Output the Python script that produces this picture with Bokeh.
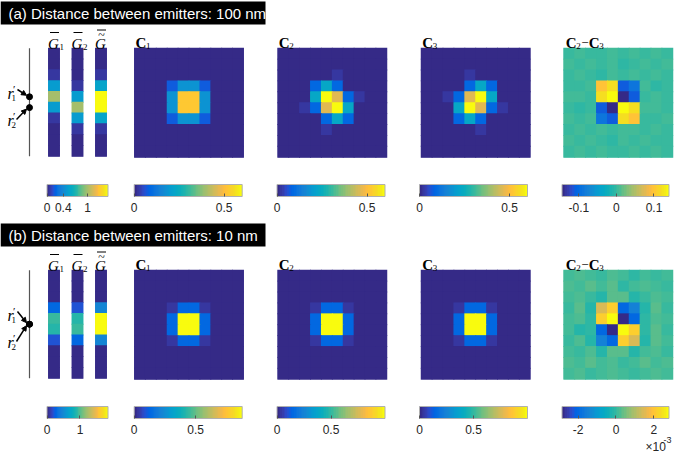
import numpy as np
from bokeh.plotting import figure
from bokeh.models import (ColumnDataSource, LinearColorMapper, ColorBar, FixedTicker,
                          CustomJSTickFormatter, Arrow, NormalHead, Range1d, AllLabels)
from bokeh.transform import transform
from bokeh.core.properties import value
from bokeh.embed import file_html
from bokeh.resources import INLINE

# ---------------- MATLAB parula (64) ----------------
PARULA_RGB = [
    (0.2081, 0.1663, 0.5292), (0.2116, 0.1898, 0.5777), (0.2123, 0.2138, 0.6270), (0.2081, 0.2386, 0.6771),
    (0.1959, 0.2645, 0.7279), (0.1707, 0.2919, 0.7792), (0.1253, 0.3242, 0.8303), (0.0591, 0.3598, 0.8683),
    (0.0117, 0.3875, 0.8820), (0.0060, 0.4086, 0.8828), (0.0165, 0.4266, 0.8786), (0.0329, 0.4430, 0.8720),
    (0.0498, 0.4586, 0.8641), (0.0629, 0.4737, 0.8554), (0.0723, 0.4887, 0.8467), (0.0779, 0.5040, 0.8384),
    (0.0793, 0.5200, 0.8312), (0.0749, 0.5375, 0.8263), (0.0641, 0.5570, 0.8240), (0.0488, 0.5772, 0.8228),
    (0.0343, 0.5966, 0.8199), (0.0265, 0.6137, 0.8135), (0.0239, 0.6287, 0.8038), (0.0231, 0.6418, 0.7913),
    (0.0228, 0.6535, 0.7768), (0.0267, 0.6642, 0.7607), (0.0384, 0.6743, 0.7436), (0.0590, 0.6838, 0.7254),
    (0.0843, 0.6928, 0.7062), (0.1133, 0.7015, 0.6859), (0.1453, 0.7098, 0.6646), (0.1801, 0.7177, 0.6424),
    (0.2178, 0.7250, 0.6193), (0.2586, 0.7317, 0.5954), (0.3022, 0.7376, 0.5712), (0.3482, 0.7424, 0.5473),
    (0.3953, 0.7459, 0.5244), (0.4420, 0.7481, 0.5033), (0.4871, 0.7491, 0.4840), (0.5300, 0.7491, 0.4661),
    (0.5709, 0.7485, 0.4494), (0.6099, 0.7473, 0.4337), (0.6473, 0.7456, 0.4188), (0.6834, 0.7435, 0.4044),
    (0.7184, 0.7411, 0.3905), (0.7525, 0.7384, 0.3768), (0.7858, 0.7356, 0.3633), (0.8185, 0.7327, 0.3498),
    (0.8507, 0.7299, 0.3360), (0.8824, 0.7274, 0.3217), (0.9139, 0.7258, 0.3063), (0.9450, 0.7261, 0.2886),
    (0.9739, 0.7314, 0.2666), (0.9938, 0.7455, 0.2403), (0.9990, 0.7653, 0.2164), (0.9955, 0.7861, 0.1967),
    (0.9880, 0.8066, 0.1794), (0.9789, 0.8271, 0.1633), (0.9697, 0.8481, 0.1475), (0.9626, 0.8705, 0.1309),
    (0.9589, 0.8949, 0.1132), (0.9598, 0.9218, 0.0948), (0.9661, 0.9514, 0.0755), (0.9763, 0.9831, 0.0538),
]
PARULA = ["#%02x%02x%02x" % tuple(int(round(c * 255)) for c in rgb) for rgb in PARULA_RGB]

# ---------------- data ----------------
banner_texts = ["(a) Distance between emitters: 100 nm", "(b) Distance between emitters: 10 nm"]

# G-bar columns (10 rows, top to bottom)
G1_a = [0, 0, 0.05, 0.50, 1.00, 0.50, 0.05, 0, 0, 0]
G2_a = [0, 0, 0, 0.05, 0.50, 1.00, 0.50, 0.05, 0, 0]
Gt_a = [0, 0, 0.05, 0.55, 1.50, 1.50, 0.55, 0.05, 0, 0]
G1_b = [0, 0, 0.01, 0.28, 0.95, 0.88, 0.19, 0.01, 0, 0]
G2_b = [0, 0, 0.01, 0.19, 0.88, 0.95, 0.28, 0.01, 0, 0]
Gt_b = [0, 0, 0.02, 0.47, 1.83, 1.83, 0.47, 0.02, 0, 0]
emitter_rows_a = [4, 5]
emitter_rows_b = [4.5, 4.5]

Z = [0] * 10
C1_a = [Z, Z, Z,
        [0, 0, 0, 0.07, 0.18, 0.18, 0.07, 0, 0, 0],
        [0, 0, 0, 0.18, 0.52, 0.52, 0.18, 0, 0, 0],
        [0, 0, 0, 0.18, 0.52, 0.52, 0.18, 0, 0, 0],
        [0, 0, 0, 0.07, 0.18, 0.18, 0.07, 0, 0, 0],
        Z, Z, Z]
C2_a = [Z, Z,
        [0, 0, 0, 0, 0, 0.02, 0, 0, 0, 0],
        [0, 0, 0, 0.09, 0.23, 0.09, 0, 0, 0, 0],
        [0, 0, 0, 0.23, 0.60, 0.46, 0.09, 0.02, 0, 0],
        [0, 0, 0.02, 0.09, 0.46, 0.60, 0.23, 0, 0, 0],
        [0, 0, 0, 0, 0.09, 0.23, 0.09, 0, 0, 0],
        [0, 0, 0, 0, 0.02, 0, 0, 0, 0, 0],
        Z, Z]
C3_a = [Z, Z,
        [0, 0, 0, 0, 0.02, 0, 0, 0, 0, 0],
        [0, 0, 0, 0, 0.09, 0.23, 0.09, 0, 0, 0],
        [0, 0, 0.02, 0.09, 0.46, 0.60, 0.23, 0, 0, 0],
        [0, 0, 0, 0.23, 0.60, 0.46, 0.09, 0.02, 0, 0],
        [0, 0, 0, 0.09, 0.23, 0.09, 0, 0, 0, 0],
        [0, 0, 0, 0, 0, 0.02, 0, 0, 0, 0],
        Z, Z]
D_a = [[0, 0.002, 0, 0, 0.002, 0, 0.002, 0, 0.002, 0],
       [0.002, 0, 0.003, 0, 0.006, -0.003, 0, 0.002, 0, 0.002],
       [0, 0.002, 0, -0.003, 0.002, -0.002, 0.003, 0, 0.003, 0],
       [0, 0, 0.002, 0.097, 0.118, -0.111, -0.088, 0.003, -0.004, 0],
       [0.002, 0.004, 0, 0.118, 0.140, -0.145, -0.111, 0, 0.002, 0],
       [0, -0.005, 0, -0.111, -0.145, 0.140, 0.118, 0.002, 0.004, 0],
       [0.002, 0, 0.003, -0.088, -0.111, 0.118, 0.097, -0.002, 0, 0.002],
       [0, 0.002, 0, 0.002, 0, 0.003, 0.005, 0, 0.002, 0],
       [0.002, 0, 0.002, 0, -0.005, 0.004, 0, 0.002, 0, 0],
       [0, 0.002, 0, 0.002, 0, 0, 0.002, 0, 0.002, 0]]

C1_b = [Z, Z, Z,
        [0, 0, 0, 0.035, 0.13, 0.13, 0.035, 0, 0, 0],
        [0, 0, 0, 0.13, 0.88, 0.88, 0.13, 0, 0, 0],
        [0, 0, 0, 0.13, 0.88, 0.88, 0.13, 0, 0, 0],
        [0, 0, 0, 0.035, 0.13, 0.13, 0.035, 0, 0, 0],
        Z, Z, Z]
C2_b = [Z, Z, Z,
        [0, 0, 0, 0.04, 0.15, 0.15, 0.04, 0, 0, 0],
        [0, 0, 0, 0.15, 1.00, 1.00, 0.15, 0, 0, 0],
        [0, 0, 0, 0.15, 1.00, 1.00, 0.15, 0, 0, 0],
        [0, 0, 0, 0.04, 0.15, 0.15, 0.04, 0, 0, 0],
        Z, Z, Z]
C3_b = [Z, Z, Z,
        [0, 0, 0, 0.04, 0.15, 0.15, 0.04, 0, 0, 0],
        [0, 0, 0, 0.15, 1.00, 1.00, 0.15, 0, 0, 0],
        [0, 0, 0, 0.15, 1.00, 1.00, 0.15, 0, 0, 0],
        [0, 0, 0, 0.04, 0.15, 0.15, 0.04, 0, 0, 0],
        Z, Z, Z]
# in units of 1e-3
D_b = [[0.1, 0.2, 0.1, 0, 0.2, 0.1, -0.1, 0.1, 0, 0.1],
       [0.2, 0.1, 0.3, 0.1, 0.3, -0.1, 0.1, 0.2, 0.1, 0],
       [0.1, 0.2, 0, -0.2, 0.3, 0.3, -0.2, 0, 0.2, 0.1],
       [0, 0.3, -0.2, 1.4, 2.1, -2.0, -1.45, -0.2, 0.3, 0],
       [0.1, 0.2, -0.1, 2.1, 2.8, -2.85, -2.0, -0.1, 0.2, 0.1],
       [0.1, -0.2, -0.1, -2.0, -2.85, 2.8, 2.1, -0.1, 0.3, 0],
       [0, 0.2, -0.2, -1.45, -2.0, 2.1, 1.4, -0.2, 0.3, 0.1],
       [0.1, 0, 0.2, -0.2, 0.3, 0.3, -0.2, 0.1, 0.2, 0],
       [0.2, 0.1, 0.3, 0.1, 0.2, 0, 0.1, 0.3, 0.1, 0.2],
       [0.1, 0.2, 0, 0.1, 0.2, 0.1, 0, 0.1, 0.2, 0.1]]

# colour limits and colorbar ticks per panel
G_lim_a, G_ticks_a = (0, 1.5), [0, 0.4, 1]
G_lim_b, G_ticks_b = (0, 1.85), [0, 1]
C1_lim_a, C2_lim_a, C3_lim_a, C_ticks_a = (0, 0.6), (0, 0.6), (0, 0.6), [0, 0.5]
D_lim_a, D_ticks_a = (-0.145, 0.14), [-0.1, 0, 0.1]
C1_lim_b, C2_lim_b, C3_lim_b, C_ticks_b = (0, 0.88), (0, 1.0), (0, 1.0), [0, 0.5]
D_lim_b, D_ticks_b = (-2.85, 2.8), [-2, 0, 2]

# ---------------- layout (page pixel coordinates) ----------------
W, H = 675, 452
p = figure(width=W, height=H, x_range=Range1d(0, W), y_range=Range1d(H, 0),
           output_backend="svg", toolbar_location=None, min_border=0)
p.axis.visible = False
p.grid.visible = False
p.outline_line_color = None
p.background_fill_color = "white"
p.border_fill_color = "white"

ROW_DY = [0, 222]
CELL = 10.9
G_ROW_H = 10.8
G_COL_X = [48, 71.5, 95]
G_COL_W = 11
C_X = [134, 277.3, 420.7, 563.3]
IMG_TOP = 47.7
CB_TOP = [181, 403]
CB_H = 12
CB_X = [(46.5, 61), (133.7, 108), (276.5, 108), (419, 108), (561.5, 107)]

TXT = "#262626"
SANS = "Liberation Sans"
SERIF = "Liberation Serif"


def heat(mat, x0, y0, cw, ch, lim):
    mat = np.array(mat, dtype=float)
    if mat.ndim == 1:
        mat = mat[:, None]
    nr, nc = mat.shape
    m = LinearColorMapper(palette=PARULA, low=lim[0], high=lim[1])
    # backdrop in the panel's dominant colour, so that cell seams do not show
    bg = ColumnDataSource(dict(x=[x0 + nc * cw / 2], y=[y0 + nr * ch / 2], v=[float(np.median(mat))]))
    p.rect("x", "y", width=nc * cw, height=nr * ch, source=bg, fill_color=transform("v", m), line_color=None)
    r, c = np.meshgrid(np.arange(nr), np.arange(nc), indexing="ij")
    src = ColumnDataSource(dict(x=x0 + (c.ravel() + 0.5) * cw, y=y0 + (r.ravel() + 0.5) * ch, v=mat.ravel()))
    p.rect("x", "y", width=cw + 0.9, height=ch + 0.9, source=src, fill_color=transform("v", m),
           line_color=None)
    return m


def colorbar(m, ticks, xl, w, top):
    cb = ColorBar(color_mapper=m, orientation="horizontal", width=int(w), height=CB_H,
                  ticker=FixedTicker(ticks=ticks),
                  formatter=CustomJSTickFormatter(code="return String(tick)"),
                  major_label_policy=AllLabels(),
                  padding=0, margin=0, label_standoff=6,
                  major_tick_in=3, major_tick_out=0, major_tick_line_color="#555555",
                  minor_tick_line_color=None,
                  bar_line_color="#b0b0b0", bar_line_width=1,
                  border_line_color=None, background_fill_alpha=0,
                  major_label_text_font=SANS, major_label_text_font_size="12px",
                  major_label_text_color=TXT,
                  location=(float(xl), float(H - (top + CB_H + 21))))
    p.add_layout(cb, "center")


def text(x, y, s, size, font=SANS, style="normal", color="black", align="left", baseline="alphabetic"):
    p.text(x=[x], y=[y], text=[s], text_font=value(font), text_font_size=size, text_font_style=style,
           text_color=color, text_align=align, text_baseline=baseline)


rows = [
    dict(G=[G1_a, G2_a, Gt_a], Glim=G_lim_a, Gt=G_ticks_a, C=[C1_a, C2_a, C3_a, D_a],
         Clim=[C1_lim_a, C2_lim_a, C3_lim_a, D_lim_a], Ct=[C_ticks_a] * 3 + [D_ticks_a], em=emitter_rows_a),
    dict(G=[G1_b, G2_b, Gt_b], Glim=G_lim_b, Gt=G_ticks_b, C=[C1_b, C2_b, C3_b, D_b],
         Clim=[C1_lim_b, C2_lim_b, C3_lim_b, D_lim_b], Ct=[C_ticks_b] * 3 + [D_ticks_b], em=emitter_rows_b),
]

for k, row in enumerate(rows):
    dy = ROW_DY[k]
    # banner
    p.quad(left=[0], right=[265], top=[1 + dy], bottom=[24 + dy], fill_color="black", line_color=None)
    text(8, 13 + dy, banner_texts[k], "15px", color="white", baseline="middle")

    top = IMG_TOP + dy
    # emitter axis
    p.segment(x0=[29], y0=[top], x1=[29], y1=[top + 10 * G_ROW_H], line_color="#555555", line_width=1.2)
    ey = [top + (e + 0.5) * G_ROW_H for e in row["em"]]
    p.scatter(x=[29] * len(ey), y=ey, size=6, color="black")
    # r' labels with arrows
    for j, (ly, tip) in enumerate([(93 + dy, ey[0]), (120 + dy, ey[1])]):
        text(7, ly, "r", "16px", font=SERIF, style="italic")
        text(12.5, ly - 5, "\u2032", "11px", font=SERIF)
        text(11, ly + 4, str(j + 1), "9px", font=SERIF)
        sx, sy = (17, ly - 4) if j == 0 else (16, ly - 1)
        p.add_layout(Arrow(end=NormalHead(size=5, line_color="black", fill_color="black"),
                           x_start=sx, y_start=sy, x_end=26, y_end=tip + (-1.5 if j == 0 else 1.5),
                           line_width=1.5, line_color="black"))

    # G columns
    gm = None
    for j, g in enumerate(row["G"]):
        gm = heat(g, G_COL_X[j], top, G_COL_W, G_ROW_H, row["Glim"])
        cx = G_COL_X[j] + G_COL_W / 2
        text(cx - 0.5, 43.5 + dy, "G", "15px", font=SERIF, style="italic", align="center")
        if j < 2:
            text(cx + 5.5, 46.5 + dy, str(j + 1), "9px", font=SERIF)
            p.segment(x0=[cx - 4], y0=[32 + dy], x1=[cx + 5], y1=[32 + dy], line_color="black", line_width=1)
        else:
            text(cx + 0.5, 34.5 + dy, "~", "12px", font=SERIF, align="center", baseline="middle")
            p.segment(x0=[cx - 4], y0=[29.5 + dy], x1=[cx + 5], y1=[29.5 + dy], line_color="black", line_width=1)
    colorbar(gm, row["Gt"], CB_X[0][0], CB_X[0][1], CB_TOP[k])

    # C panels
    for j, (mat, lim, ticks) in enumerate(zip(row["C"], row["Clim"], row["Ct"])):
        m = heat(mat, C_X[j], top, CELL, CELL, lim)
        colorbar(m, ticks, CB_X[j + 1][0], CB_X[j + 1][1], CB_TOP[k])
        tx = C_X[j] + 1
        ty = 42 + dy
        if j < 3:
            text(tx, ty, "C", "15px", font=SERIF, style="bold")
            text(tx + 10.5, ty + 3, str(j + 1), "9px", font=SERIF)
        else:
            text(tx + 1, ty, "C", "15px", font=SERIF, style="bold")
            text(tx + 11.5, ty + 3, "2", "9px", font=SERIF)
            text(tx + 20, ty, "\u2212", "13px", font=SERIF, align="center")
            text(tx + 24, ty, "C", "15px", font=SERIF, style="bold")
            text(tx + 34.5, ty + 3, "3", "9px", font=SERIF)

# exponent label of last colorbar
text(645, 446, "\u00d710", "12px", color=TXT)
text(663, 439, "-3", "9px", color=TXT)

open("out.html", "w").write(file_html(p, INLINE))
